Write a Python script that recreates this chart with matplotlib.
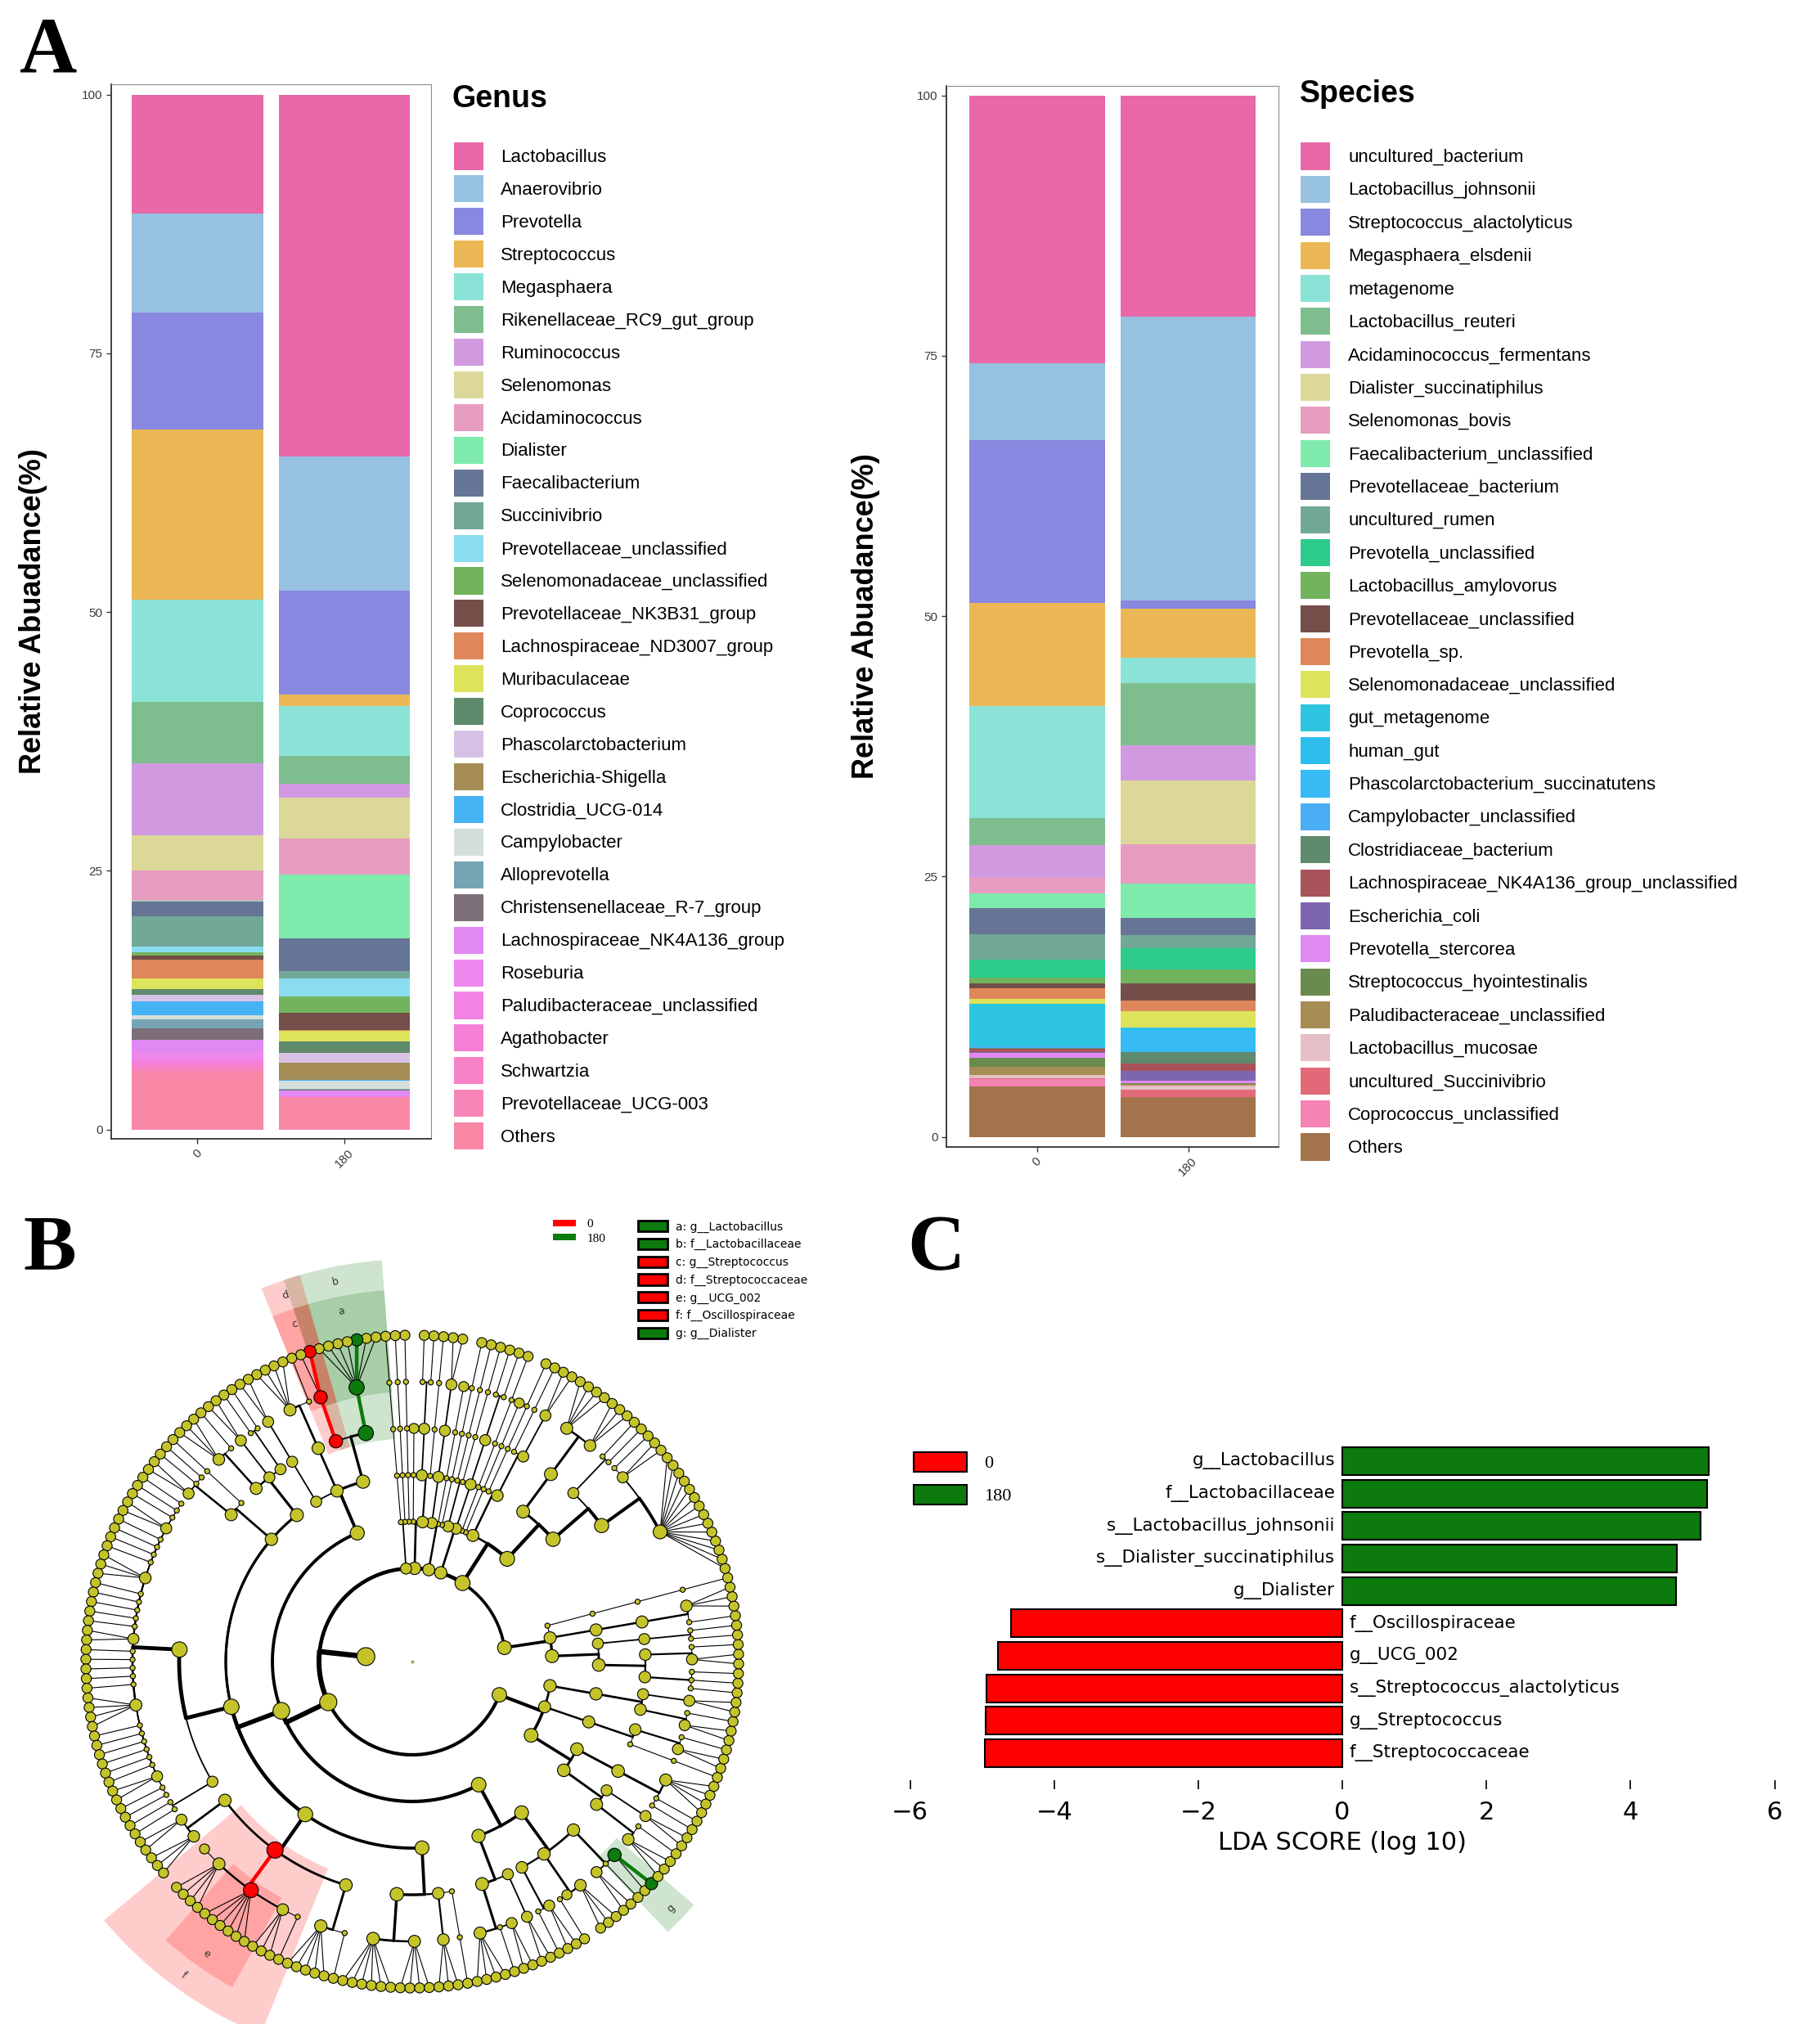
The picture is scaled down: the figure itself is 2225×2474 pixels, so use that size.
import numpy as np
import matplotlib
matplotlib.use('Agg')
import matplotlib.pyplot as plt
from matplotlib.patches import Patch, Wedge

plt.rcParams['font.family'] = ['Liberation Sans', 'DejaVu Sans']

W, H = 2225, 2474

# ---------------- panel A data ----------------
groups = ['0', '180']

genus_names = ['Lactobacillus', 'Anaerovibrio', 'Prevotella', 'Streptococcus', 'Megasphaera',
               'Rikenellaceae_RC9_gut_group', 'Ruminococcus', 'Selenomonas', 'Acidaminococcus',
               'Dialister', 'Faecalibacterium', 'Succinivibrio', 'Prevotellaceae_unclassified',
               'Selenomonadaceae_unclassified', 'Prevotellaceae_NK3B31_group',
               'Lachnospiraceae_ND3007_group', 'Muribaculaceae', 'Coprococcus',
               'Phascolarctobacterium', 'Escherichia-Shigella', 'Clostridia_UCG-014',
               'Campylobacter', 'Alloprevotella', 'Christensenellaceae_R-7_group',
               'Lachnospiraceae_NK4A136_group', 'Roseburia', 'Paludibacteraceae_unclassified',
               'Agathobacter', 'Schwartzia', 'Prevotellaceae_UCG-003', 'Others']
genus_day0 = [11.5, 9.6, 11.3, 16.4, 9.9, 5.9, 7.0, 3.4, 2.9, 0.1, 1.4, 2.9, 0.6, 0.3, 0.4,
              1.8, 1.0, 0.6, 0.6, 0.05, 1.3, 0.4, 0.9, 1.1, 1.2, 0.5, 0.4, 0.4, 0.3, 0.3, 5.55]
genus_day180 = [35.0, 12.9, 10.1, 1.1, 4.8, 2.7, 1.3, 4.0, 3.5, 6.1, 3.2, 0.7, 1.7, 1.6, 1.7,
                0.05, 1.05, 1.1, 0.9, 1.7, 0.05, 0.8, 0.1, 0.05, 0.5, 0.05, 0.05, 0.05, 0.05,
                0.05, 3.05]
genus_colors = ['#E868A8', '#96C1E0', '#8888E0', '#EBB755', '#8BE2D6', '#7EBE8E', '#D19AE0',
                '#DCD899', '#E69DC0', '#7EEAAC', '#667595', '#72A898', '#8ADDEE', '#72B35E',
                '#744E48', '#DE875A', '#DDE35A', '#5F8A6C', '#D7C2E6', '#A58D55', '#46B3F5',
                '#D5DFDA', '#76A4B4', '#7C6F78', '#E089F2', '#EC88EE', '#F282E4', '#F57FD4',
                '#F783C6', '#F785B8', '#F887A6']

species_names = ['uncultured_bacterium', 'Lactobacillus_johnsonii', 'Streptococcus_alactolyticus',
                 'Megasphaera_elsdenii', 'metagenome', 'Lactobacillus_reuteri',
                 'Acidaminococcus_fermentans', 'Dialister_succinatiphilus', 'Selenomonas_bovis',
                 'Faecalibacterium_unclassified', 'Prevotellaceae_bacterium', 'uncultured_rumen',
                 'Prevotella_unclassified', 'Lactobacillus_amylovorus',
                 'Prevotellaceae_unclassified', 'Prevotella_sp.', 'Selenomonadaceae_unclassified',
                 'gut_metagenome', 'human_gut', 'Phascolarctobacterium_succinatutens',
                 'Campylobacter_unclassified', 'Clostridiaceae_bacterium',
                 'Lachnospiraceae_NK4A136_group_unclassified', 'Escherichia_coli',
                 'Prevotella_stercorea', 'Streptococcus_hyointestinalis',
                 'Paludibacteraceae_unclassified', 'Lactobacillus_mucosae',
                 'uncultured_Succinivibrio', 'Coprococcus_unclassified', 'Others']
species_day0 = [25.7, 7.4, 15.6, 9.9, 10.8, 2.6, 3.1, 0.05, 1.5, 1.4, 2.5, 2.4, 1.8, 0.5, 0.5,
                1.0, 0.45, 4.1, 0.05, 0.05, 0.05, 0.1, 0.3, 0.1, 0.5, 0.8, 0.8, 0.3, 0.1, 0.7,
                4.85]
species_day180 = [21.2, 27.3, 0.8, 4.7, 2.4, 6.0, 3.4, 6.1, 3.8, 3.3, 1.6, 1.3, 2.0, 1.4, 1.6,
                  1.0, 1.6, 0.05, 0.3, 2.0, 0.05, 1.1, 0.65, 1.0, 0.2, 0.1, 0.1, 0.4, 0.7, 0.05,
                  3.8]
species_colors = ['#E868A8', '#96C1E0', '#8888E0', '#EBB755', '#8BE2D6', '#7EBE8E', '#D19AE0',
                  '#DCD899', '#E69DC0', '#7EEAAC', '#667595', '#72A898', '#2ECC8C', '#72B35E',
                  '#744E48', '#DE875A', '#DDE35A', '#2EC5E0', '#2EBEEE', '#36BBF5', '#4AAEF5',
                  '#5F8A6C', '#A8525A', '#7E65B0', '#E089F2', '#6A8B4F', '#A58D55', '#E4BFC6',
                  '#E26A78', '#F583B4', '#A3734B']

# ---------------- panel B data (cladogram) ----------------
# nesting: phylum > class > order > family > genus > species
# an int k stands for a node with k leaf children, 0 is a leaf
# (tag, node) marks a node: letters are highlighted clades, '0'/'180' colour a node only
P1 = [[[[1, 1, 1], [2, 1]], [[1, 1]]], [[[1, 3]]], [[[1]]]]
P2 = [[[[14, 2, 1], [1, 1]], [[3, 4]]], [[[2], [1]], [[1]]], [[1]]]
P3a = [[[[1]]], [[[1, 1]]], [[[1]], [[1]]]]
P3b = [[[[1]]], [[[0]]], [[[2]]]]
P3c = [[[[1]], [[1, 1]]], [[0]], [[[1]]]]
P3d = [[[[1]]], [[[1]]]]
bacilli = [[('b', [('a', [0, 0, ('180', 0), 0, 0, 0, 0])]), ('d', [('c', [('0', 0), 0])])],
           [[1, 4]], [[2]]]
clostridia = [[[1, 1], [2], [1, 3]],
              [[1], [1, 1, 2]],
              [[1, 1, 1, 2, 1, 1, 1, 1, 3, 1, 1, 1, 1, 1, 2, 1, 1, 1, 1, 1, 4, 1, 1, 1, 1, 1, 1,
                2, 1, 1], [1, 1]],
              [[2, 3], ('f', [0, 4, ('e', 6), 3, 1]), [5, 1]],
              [[6, 4], [3], [1]]]
negativicutes = [[[4, 1, 2], [2]],
                 [[1, 2], [1, 0, 3], [2, 1, ('g', [0, ('180', 0)])]]]
FIRM = [bacilli, clostridia, negativicutes]
PD = [[[[3, 1], [2]], [[1, 1, 4]]], [[[1], [2, 1]]], [[[2, 1], [2]]]]
phyla = [P1, P2, P3a, P3b, P3c, P3d, FIRM, PD]

clade_letters = ['a', 'b', 'c', 'd', 'e', 'f', 'g']
clade_names = ['g__Lactobacillus', 'f__Lactobacillaceae', 'g__Streptococcus',
               'f__Streptococcaceae', 'g__UCG_002', 'f__Oscillospiraceae', 'g__Dialister']
clade_groups = ['180', '180', '0', '0', '0', '0', '180']

# ---------------- panel C data ----------------
lda_names = ['g__Lactobacillus', 'f__Lactobacillaceae', 's__Lactobacillus_johnsonii',
             's__Dialister_succinatiphilus', 'g__Dialister', 'f__Oscillospiraceae',
             'g__UCG_002', 's__Streptococcus_alactolyticus', 'g__Streptococcus',
             'f__Streptococcaceae']
lda_scores = [5.08, 5.06, 4.97, 4.64, 4.63, -4.60, -4.78, -4.94, -4.95, -4.96]
lda_groups = ['180', '180', '180', '180', '180', '0', '0', '0', '0', '0']

group_color = {'0': '#FF0000', '180': '#0C7A0C'}
olive = '#C4C42A'


def box(x0, y0, x1, y1):
    return [x0 / W, 1 - y1 / H, (x1 - x0) / W, (y1 - y0) / H]


def fpos(x, y):
    return (x / W, 1 - y / H)


fig = plt.figure(figsize=(W / 100, H / 100), dpi=100)
fig.patch.set_facecolor('white')


def stacked(rect, names, v0, v180, colors, xlim, ylim, width, ylab_x):
    ax = fig.add_axes(rect)
    vals = np.array([v0, v180])
    x = np.arange(len(groups))
    bottom = np.zeros(len(groups))
    for i in range(len(names) - 1, -1, -1):
        ax.bar(x, vals[:, i], width, bottom=bottom, color=colors[i], linewidth=0)
        bottom += vals[:, i]
    ax.set_xlim(*xlim)
    ax.set_ylim(*ylim)
    ax.set_xticks(x, groups, rotation=45, ha='center', va='top')
    ax.set_yticks([0, 25, 50, 75, 100])
    ax.tick_params(labelsize=11, labelcolor='#3A3A3A', length=4, width=1, color='#333333')
    for s in ['left', 'bottom']:
        ax.spines[s].set_color('#333333')
        ax.spines[s].set_linewidth(1.3)
    for s in ['top', 'right']:
        ax.spines[s].set_color('#8C8C8C')
    ax.set_ylabel('Relative Abuadance(%)', fontsize=26, fontweight='bold')
    ax.yaxis.set_label_coords(ylab_x, 0.5)
    return ax


def key_legend(names, colors, left, top, spacing, pad):
    handles = [Patch(facecolor=c, edgecolor='none', label=n) for n, c in zip(names, colors)]
    fig.legend(handles=handles, loc='upper left', bbox_to_anchor=fpos(left, top),
               frameon=False, borderpad=0, borderaxespad=0, fontsize=16,
               handlelength=1.62, handleheight=1.91, labelspacing=spacing,
               handletextpad=pad)


# ---- A: genus ----
stacked(box(136, 103, 527, 1392), genus_names, genus_day0, genus_day180, genus_colors,
        (-0.587, 1.591), (-0.89, 100.99), 0.894, -0.2)
fig.text(*fpos(552, 131), 'Genus', fontsize=27, fontweight='bold', va='baseline')
key_legend(genus_names, genus_colors, 555, 174.5, 0.31, 0.95)

# ---- A: species ----
stacked(box(1157, 105, 1563, 1402), species_names, species_day0, species_day180,
        species_colors, (-0.602, 1.599), (-0.98, 100.92), 0.897, -0.2)
fig.text(*fpos(1589, 125), 'Species', fontsize=27, fontweight='bold', va='baseline')
key_legend(species_names, species_colors, 1590, 174.5, 0.33, 1.0)

# ---- B: cladogram ----
R = 57
theta0 = -5.5


def build(spec, level):
    tag = None
    if isinstance(spec, tuple):
        tag, spec = spec
    if isinstance(spec, int):
        spec = [0] * spec
    return {'level': level, 'tag': tag, 'kids': [build(s, level + 1) for s in spec]}


root = build([phyla], 0)


def count(n):
    return 1 if not n['kids'] else sum(count(k) for k in n['kids'])


N = count(root)
step = 360.0 / N
slot = [0]


def layout(n):
    if not n['kids']:
        n['ang'] = theta0 + slot[0] * step
        n['lo'] = n['hi'] = n['ang']
        n['n'] = 1
        slot[0] += 1
        return
    for k in n['kids']:
        layout(k)
    n['lo'] = n['kids'][0]['lo']
    n['hi'] = n['kids'][-1]['hi']
    n['ang'] = (n['kids'][0]['ang'] + n['kids'][-1]['ang']) / 2
    n['n'] = sum(k['n'] for k in n['kids'])


layout(root)


def tag_group(t):
    if t is None:
        return None
    if t in clade_letters:
        return clade_groups[clade_letters.index(t)]
    return t


def xy(r, a):
    t = np.radians(a)
    return r * np.cos(t), r * np.sin(t)


def lw_of(n):
    return 0.8 + 0.5 * np.log2(n)


axb = fig.add_axes(box(54, 1531, 954, 2474))
axb.set_xlim(-450, 450)
axb.set_ylim(-443, 500)
axb.axis('off')

nodes = []


def draw(n):
    if n['level'] >= 1:
        nodes.append(n)
    if n['level'] >= 1 and n['kids']:
        r0 = R * n['level']
        r1 = r0 + R
        pg = tag_group(n['tag'])
        kgs = [tag_group(k['tag']) for k in n['kids']]
        if n['kids'][0]['level'] == 7:
            for k, kg in zip(n['kids'], kgs):
                hit = pg is not None and kg == pg
                x0, y0 = xy(r0, n['ang'])
                x1, y1 = xy(r1, k['ang'])
                axb.plot([x0, x1], [y0, y1], color=group_color[pg] if hit else 'k',
                         lw=3.2 if hit else lw_of(k['n']), zorder=3 if hit else 2,
                         solid_capstyle='round')
        else:
            hit = pg is not None and pg in kgs
            x0, y0 = xy(r0, n['ang'])
            x1, y1 = xy(r1, n['ang'])
            axb.plot([x0, x1], [y0, y1], color=group_color[pg] if hit else 'k',
                     lw=max(lw_of(n['n']), 3.2) if hit else lw_of(n['n']),
                     zorder=3 if hit else 2, solid_capstyle='round')
            for k, kg in zip(n['kids'], kgs):
                a = np.radians(np.linspace(n['ang'], k['ang'], 40))
                khit = pg is not None and kg == pg
                axb.plot(r1 * np.cos(a), r1 * np.sin(a),
                         color=group_color[pg] if khit else 'k', lw=lw_of(k['n']),
                         zorder=3 if khit else 2, solid_capstyle='round')
    for k in n['kids']:
        draw(k)


draw(root)

px, py, ps, pc = [], [], [], []
for n in nodes:
    x, y = xy(R * n['level'], n['ang'])
    g = tag_group(n['tag'])
    if n['kids'] and n['n'] == 1:
        ms = 4.5
    else:
        ms = 8.8 + 0.9 * np.log2(n['n'])
    if g is not None:
        ms += 2
    px.append(x)
    py.append(y)
    ps.append(ms ** 2)
    pc.append(group_color[g] if g is not None else olive)
axb.scatter(px, py, s=ps, c=pc, edgecolors='k', linewidths=0.8, zorder=4)
axb.scatter([0], [0], s=6, c=olive, edgecolors='#777777', linewidths=0.4, zorder=4)

for n in nodes:
    t = n['tag']
    if t not in clade_letters:
        continue
    g = tag_group(t)
    lev = n['level']
    r_in = R * lev - 12
    r_out = 455 + 37 * (6 - lev)
    th1 = n['lo'] - step / 2 - 1.2
    th2 = n['hi'] + step / 2 + 1.2
    axb.add_patch(Wedge((0, 0), r_out, th1, th2, width=r_out - r_in,
                        facecolor=group_color[g], alpha=0.2, linewidth=0, zorder=1))
    mid = (th1 + th2) / 2
    lx, ly = xy(r_out - 18, mid)
    rot = mid - 90
    while rot > 90:
        rot -= 180
    while rot <= -90:
        rot += 180
    axb.text(lx, ly, t, fontsize=9, ha='center', va='center', rotation=rot,
             family='DejaVu Sans', color='#333333', zorder=5)

fig.legend(handles=[Patch(facecolor=group_color[g], edgecolor='none', label=g) for g in groups],
           loc='upper left', bbox_to_anchor=fpos(676, 1490), frameon=False, borderpad=0,
           borderaxespad=0, prop={'family': 'Liberation Serif', 'size': 11},
           handlelength=1.83, handleheight=0.43, labelspacing=0.3, handletextpad=0.9)
fig.legend(handles=[Patch(facecolor=group_color[g], edgecolor='k', linewidth=2,
                          label=f'{l}: {nm}')
                    for l, nm, g in zip(clade_letters, clade_names, clade_groups)],
           loc='upper left', bbox_to_anchor=fpos(780, 1492), frameon=False, borderpad=0,
           borderaxespad=0, prop={'family': 'DejaVu Sans', 'size': 10},
           handlelength=2.6, handleheight=1.1, labelspacing=0.52, handletextpad=0.72)

# ---- C: LDA ----
axc = fig.add_axes(box(1112.5, 1760, 2169.7, 2187))
ypos = np.arange(len(lda_names))
axc.barh(ypos, lda_scores, height=0.855, color=[group_color[g] for g in lda_groups],
         edgecolor='k', linewidth=1.5)
for y, s, nm in zip(ypos, lda_scores, lda_names):
    if s > 0:
        axc.text(-0.1, y, nm, ha='right', va='center', fontsize=15.5, family='DejaVu Sans')
    else:
        axc.text(0.1, y, nm, ha='left', va='center', fontsize=15.5, family='DejaVu Sans')
axc.set_xlim(-6, 6)
axc.set_ylim(10.11, -0.655)
axc.set_yticks([])
axc.set_xticks([-6, -4, -2, 0, 2, 4, 6])
for s in axc.spines.values():
    s.set_visible(False)
axc.tick_params(axis='x', direction='in', length=8, width=1.2, pad=10, labelsize=22)
for lab in axc.get_xticklabels():
    lab.set_family('DejaVu Sans')
axc.set_xlabel('LDA SCORE (log 10)', fontsize=22, family='DejaVu Sans', labelpad=6)
fig.legend(handles=[Patch(facecolor=group_color[g], edgecolor='k', linewidth=1.5, label=g)
                    for g in groups],
           loc='upper left', bbox_to_anchor=fpos(1117, 1775), frameon=False, borderpad=0,
           borderaxespad=0, prop={'family': 'Liberation Serif', 'size': 16},
           handlelength=2.93, handleheight=1.29, labelspacing=0.68, handletextpad=0.95)

# ---- panel letters ----
for x, y, s in [(24, 88, 'A'), (28, 1552, 'B'), (1109, 1552, 'C')]:
    fig.text(*fpos(x, y), s, fontsize=70, fontweight='bold', family='Liberation Serif',
             va='baseline')

fig.savefig('out.png', dpi=100, facecolor='white')
